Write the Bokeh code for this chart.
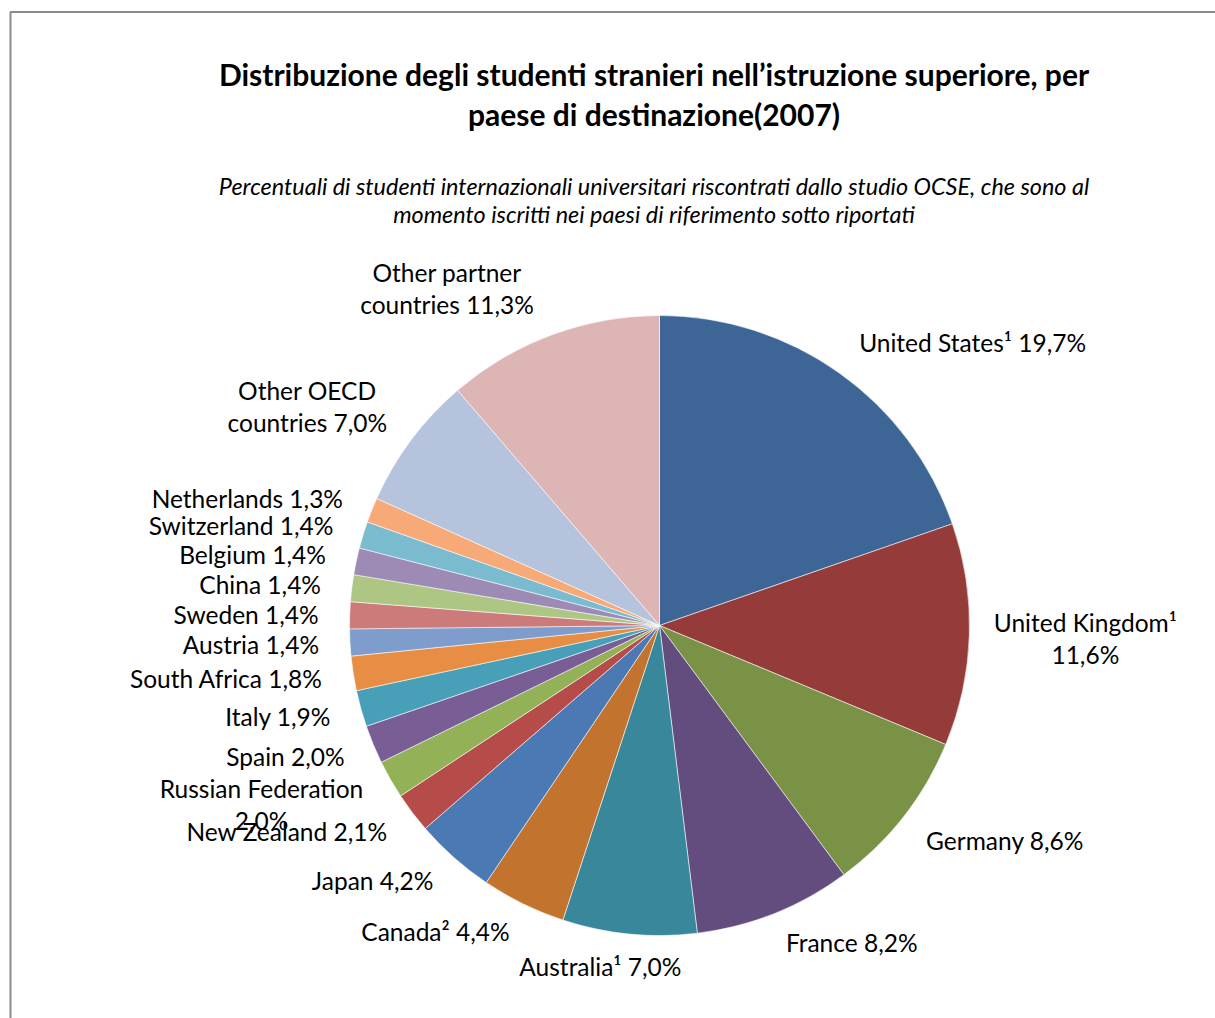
import math
from bokeh.plotting import figure
from bokeh.models import Range1d, ColumnDataSource
from bokeh.core.properties import value
from bokeh.embed import file_html
from bokeh.resources import INLINE

# ---------------- data ----------------
countries = [
    "United States¹", "United Kingdom¹", "Germany", "France", "Australia¹",
    "Canada²", "Japan", "New Zealand", "Russian Federation", "Spain",
    "Italy", "South Africa", "Austria", "Sweden", "China",
    "Belgium", "Switzerland", "Netherlands", "Other OECD countries",
    "Other partner countries",
]
shares = [19.7, 11.6, 8.6, 8.2, 7.0, 4.4, 4.2, 2.1, 2.0, 2.0,
          1.9, 1.8, 1.4, 1.4, 1.4, 1.4, 1.4, 1.3, 7.0, 11.3]
label_lines = [
    ["United States¹ 19,7%"], ["United Kingdom¹", "11,6%"], ["Germany 8,6%"],
    ["France 8,2%"], ["Australia¹ 7,0%"], ["Canada² 4,4%"], ["Japan 4,2%"],
    ["New Zealand 2,1%"], ["Russian Federation", "2,0%"], ["Spain 2,0%"],
    ["Italy 1,9%"], ["South Africa 1,8%"], ["Austria 1,4%"], ["Sweden 1,4%"],
    ["China 1,4%"], ["Belgium 1,4%"], ["Switzerland 1,4%"], ["Netherlands 1,3%"],
    ["Other OECD", "countries 7,0%"], ["Other partner", "countries 11,3%"],
]
title_lines = ["Distribuzione degli studenti stranieri nell’istruzione superiore, per",
               "paese di destinazione(2007)"]
subtitle_lines = ["Percentuali di studenti internazionali universitari riscontrati dallo studio OCSE, che sono al",
                  "momento iscritti nei paesi di riferimento sotto riportati"]

# ---------------- styles ----------------
colors = ["#3D6596", "#953B3A", "#7A9245", "#624D7E", "#39879A",
          "#C2742F", "#4A79B4", "#B64C49", "#93B156", "#795D95",
          "#47A0B8", "#E88D44", "#7E9CCC", "#CC7B7A", "#AEC684",
          "#9E8BB5", "#7BBBD0", "#F8A978", "#B6C3DD", "#DEB5B5"]
# per-label nudges (dx, dy) in px and alignment for wrapped / crowded labels
nudges = {0: (2, -5, "left"), 1: (85, 3, "center"), 2: (-2, 5, "left"),
          4: (-26, 2, "center"), 8: (-102, 10, "center"),
          18: (-79, -15, "center"), 19: (-94, -17, "center")}

W, H = 1215, 1018
CX, CY, R = 659, 625, 310
RL = 341
FONT = "Lato"

def Y(y):
    return H - y

p = figure(width=W, height=H, x_range=Range1d(0, W), y_range=Range1d(0, H),
           output_backend="svg", toolbar_location=None, min_border=0,
           x_axis_location=None, y_axis_location=None)
p.grid.visible = False
p.outline_line_color = None
p.background_fill_color = "white"
p.border_fill_color = "white"

# chart border
p.quad(left=[10], right=[W + 20], top=[Y(11.5)], bottom=[-20],
       fill_color=None, line_color="#8A8A8A", line_width=2)

total = sum(shares)
starts, ends, mids = [], [], []
cum = 0.0
for s in shares:
    a0 = cum / total * 2 * math.pi
    cum += s
    a1 = cum / total * 2 * math.pi
    starts.append(math.pi / 2 - a0)
    ends.append(math.pi / 2 - a1)
    mids.append((a0 + a1) / 2)

src = ColumnDataSource(dict(start=starts, end=ends, color=colors, name=countries))
p.wedge(x=CX, y=Y(CY), radius=R, start_angle="start", end_angle="end",
        direction="clock", fill_color="color", line_color="white",
        line_alpha=0.7, line_width=0.8, source=src)

groups = {"left": ([], [], []), "right": ([], [], []), "center": ([], [], [])}
for i, (th, lines) in enumerate(zip(mids, label_lines)):
    ax = CX + RL * math.sin(th)
    ay = CY - RL * math.cos(th)
    s = math.sin(th)
    align = "left" if s > 0.2 else ("right" if s < -0.2 else "center")
    if i in nudges:
        dx, dy, align = nudges[i]
        ax += dx
        ay += dy
    n = len(lines)
    for k, t in enumerate(lines):
        yy = ay + (k - (n - 1) / 2) * 32
        gx, gy, gt = groups[align]
        gx.append(ax); gy.append(Y(yy)); gt.append(t)

for align, (gx, gy, gt) in groups.items():
    if gx:
        p.text(x=gx, y=gy, text=gt, text_align=align, text_baseline="middle",
               text_font=value(FONT), text_font_size="24.5px", text_color="#000000")

p.text(x=[653.5, 653.5], y=[Y(73), Y(113)], text=title_lines, text_align="center",
       text_baseline="middle", text_font=value(FONT), text_font_size="30px",
       text_font_style="bold", text_color="#000000")
p.text(x=[653.5, 653.5], y=[Y(185), Y(213)], text=subtitle_lines, text_align="center",
       text_baseline="middle", text_font=value(FONT), text_font_size="23.4px",
       text_font_style="italic", text_color="#000000")

open("out.html", "w").write(file_html(p, INLINE))
